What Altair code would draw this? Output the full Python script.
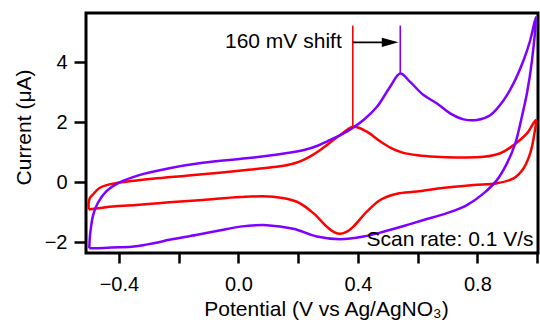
import altair as alt
import pandas as pd

# ---------------- data ----------------
red_v = [-0.501, -0.501, -0.497, -0.488, -0.466, -0.432, -0.376, -0.287, -0.175, -0.064,
         0.026, 0.117, 0.160, 0.196, 0.220, 0.245, 0.274, 0.341, 0.385, 0.430, 0.470, 0.510, 0.550,
         0.600, 0.660, 0.732, 0.821, 0.877, 0.921, 0.966, 0.996,
         0.991, 0.977, 0.955, 0.921, 0.866, 0.787, 0.676, 0.598, 0.531, 0.475, 0.430,
         0.385, 0.365, 0.342, 0.320, 0.296, 0.251, 0.196, 0.117, 0.006, -0.119, -0.231,
         -0.343, -0.443, -0.501]
red_i = [-0.91, -0.69, -0.52, -0.42, -0.20, -0.07, 0.02, 0.12, 0.22, 0.32,
         0.41, 0.51, 0.57, 0.66, 0.76, 0.89, 1.08, 1.58, 1.85, 1.69, 1.40, 1.15, 0.99,
         0.90, 0.85, 0.83, 0.85, 0.97, 1.24, 1.63, 2.08,
         1.63, 0.97, 0.47, 0.13, -0.03, -0.09, -0.20, -0.31, -0.38, -0.59, -0.98,
         -1.48, -1.64, -1.72, -1.66, -1.48, -1.03, -0.65, -0.48, -0.49, -0.59, -0.67,
         -0.76, -0.83, -0.91]

purple_v = [-0.499, -0.497, -0.493, -0.486, -0.471, -0.443, -0.399, -0.332, -0.231, -0.119,
            0.026, 0.117, 0.180, 0.229, 0.265, 0.296, 0.363, 0.419, 0.464, 0.508, 0.542, 0.575,
            0.620, 0.665, 0.709, 0.754, 0.799, 0.843, 0.888, 0.921, 0.955, 0.977, 0.996,
            0.983, 0.966, 0.949, 0.927, 0.899, 0.866, 0.821, 0.765, 0.698, 0.620, 0.553,
            0.486, 0.419, 0.341, 0.263, 0.184, 0.095, 0.006, -0.064, -0.142, -0.231,
            -0.270, -0.309, -0.350, -0.399, -0.450, -0.499]
purple_i = [-2.20, -1.81, -1.48, -1.09, -0.70, -0.31, -0.01, 0.24, 0.47, 0.65,
            0.80, 0.91, 1.00, 1.10, 1.22, 1.36, 1.69, 2.08, 2.52, 3.19, 3.63, 3.35,
            2.91, 2.63, 2.30, 2.10, 2.08, 2.24, 2.74, 3.30, 4.08, 4.74, 5.52,
            4.08, 2.97, 2.19, 1.30, 0.63, 0.08, -0.37, -0.76, -1.03, -1.26, -1.46,
            -1.65, -1.81, -1.90, -1.81, -1.55, -1.43, -1.48, -1.61, -1.76, -1.92,
            -2.01, -2.08, -2.14, -2.17, -2.19, -2.20]

peak_name = ["red", "purple"]
peak_v = [0.383, 0.542]
peak_i = [1.84, 3.63]
marker_top = [5.23, 5.23]

shift_text = ["160 mV shift"]
shift_v = [0.346]
shift_i = [4.47]
arrow_start = [0.383]
arrow_end = [0.49]
arrow_i = [4.67]
head_v = [0.508]

scan_text = ["Scan rate: 0.1 V/s"]
scan_v = [0.988]
scan_i = [-2.12]

x_ticks = [-0.4, -0.2, 0.0, 0.2, 0.4, 0.6, 0.8, 1.0]
y_ticks = [-2, 0, 2, 4]
x_domain = [-0.51, 1.003]
y_domain = [-2.36, 5.65]

RED = "#FF0000"
PURPLE = "#7F00FF"
FONT = "Liberation Sans"

# ---------------- tables ----------------
red_df = pd.DataFrame({"V": red_v, "I": red_i, "k": list(range(len(red_v)))})
purple_df = pd.DataFrame({"V": purple_v, "I": purple_i, "k": list(range(len(purple_v)))})
peaks_df = pd.DataFrame({"name": peak_name, "V": peak_v, "I": peak_i, "top": marker_top})
shift_df = pd.DataFrame({"t": shift_text, "V": shift_v, "I": shift_i})
arrow_df = pd.DataFrame({"V": arrow_start, "V2": arrow_end, "I": arrow_i, "H": head_v})
scan_df = pd.DataFrame({"t": scan_text, "V": scan_v, "I": scan_i})

xs = alt.Scale(domain=x_domain, nice=False, zero=False)
ys = alt.Scale(domain=y_domain, nice=False, zero=False)

x_axis = alt.Axis(
    values=x_ticks,
    labelExpr="round(datum.value * 10) % 4 == 0 ? format(datum.value, '.1f') : ''",
    tickSize=10, labelPadding=11, labelBaseline="top", labelFontSize=20,
    labelFlush=False, labelOverlap=False, labelBound=False,
    title="Potential (V vs Ag/AgNO₃)", titleFontSize=21,
    titleX=240, titleY=62, titleAlign="center", titleBaseline="alphabetic",
)
y_axis = alt.Axis(
    values=y_ticks, format="d", tickSize=12, labelPadding=7, labelFontSize=20,
    title="Current (μA)", titleFontSize=21, titleAngle=270,
    titleX=-62, titleY=114, titleAlign="center", titleBaseline="middle",
)

red_line = alt.Chart(red_df).mark_line(
    color=RED, strokeWidth=2.5, interpolate="catmull-rom"
).encode(
    x=alt.X("V:Q", scale=xs, axis=x_axis),
    y=alt.Y("I:Q", scale=ys, axis=y_axis),
    order="k:Q",
)

purple_line = alt.Chart(purple_df).mark_line(
    color=PURPLE, strokeWidth=2.5, interpolate="catmull-rom"
).encode(
    x=alt.X("V:Q", scale=xs),
    y=alt.Y("I:Q", scale=ys),
    order="k:Q",
)

markers = alt.Chart(peaks_df).mark_rule(strokeWidth=1.6).encode(
    x=alt.X("V:Q", scale=xs),
    y=alt.Y("I:Q", scale=ys),
    y2="top:Q",
    color=alt.Color("name:N", scale=alt.Scale(domain=["red", "purple"], range=[RED, PURPLE]), legend=None),
)

arrow_line = alt.Chart(arrow_df).mark_rule(strokeWidth=1.6, color="black").encode(
    x=alt.X("V:Q", scale=xs), x2="V2:Q", y=alt.Y("I:Q", scale=ys)
)
arrow_head = alt.Chart(arrow_df).mark_point(
    shape="M-1,-0.55L1,0L-1,0.55Z", filled=True, color="black", size=276, opacity=1, strokeWidth=0
).encode(x=alt.X("H:Q", scale=xs), y=alt.Y("I:Q", scale=ys))

shift_label = alt.Chart(shift_df).mark_text(
    align="right", baseline="alphabetic", fontSize=21, font=FONT, color="black"
).encode(x=alt.X("V:Q", scale=xs), y=alt.Y("I:Q", scale=ys), text="t:N")

scan_label = alt.Chart(scan_df).mark_text(
    align="right", baseline="alphabetic", fontSize=21, font=FONT, color="black"
).encode(x=alt.X("V:Q", scale=xs), y=alt.Y("I:Q", scale=ys), text="t:N")

chart = alt.layer(
    red_line, purple_line, markers, arrow_line, arrow_head, shift_label, scan_label
).properties(
    width=452, height=240,
    autosize=alt.AutoSizeParams(type="none"),
    padding={"left": 86, "top": 13, "right": 2, "bottom": 67},
).configure_view(
    stroke="black", strokeWidth=3
).configure_axis(
    domain=False, grid=False, tickColor="black", tickWidth=2.5,
    labelColor="black", titleColor="black", labelFont=FONT, titleFont=FONT,
    titleFontWeight="normal",
)

chart.save("out.html", embed_options={"renderer": "svg", "actions": False})
